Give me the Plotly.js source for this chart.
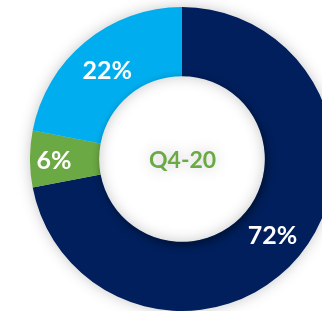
<!DOCTYPE html>
<html>
<head>
<meta charset="utf-8">
<script src="https://cdn.plot.ly/plotly-3.0.1.min.js"></script>
<style>
  html, body { margin: 0; padding: 0; width: 322px; height: 311px; overflow: hidden; background: #ffffff; }
  #chart { position: absolute; left: 30px; top: 7px; width: 304px; height: 304px;
           filter: drop-shadow(0px 0px 7px rgba(0,0,0,0.22)); }
  #holeShadow { position: absolute; left: 99px; top: 76px; width: 166px; height: 166px;
                border-radius: 50%; background: transparent;
                box-shadow: 2px 3px 9px rgba(0,0,0,0.45); pointer-events: none; }
</style>
</head>
<body>
<div id="chart"></div>
<div id="holeShadow"></div>
<script>
const categories = ["Segment A", "Segment B", "Segment C"];
const shares = [72, 6, 22];
const sliceColors = ["#001F5C", "#6BA944", "#00AEEF"];
const centerLabel = "Q4-20";

Plotly.newPlot("chart", [{
  type: "pie",
  labels: categories,
  values: shares,
  hole: 0.545,
  sort: false,
  direction: "clockwise",
  rotation: 0,
  marker: { colors: sliceColors, line: { width: 0 } },
  texttemplate: "%{value}%",
  textposition: "inside",
  insidetextorientation: "horizontal",
  textfont: { family: "Lato, 'Open Sans', sans-serif", size: 25, color: "#ffffff", weight: "bold" },
  hoverinfo: "none",
  showlegend: false
}], {
  width: 304,
  height: 304,
  margin: { l: 0, r: 0, t: 0, b: 0, pad: 0 },
  paper_bgcolor: "rgba(0,0,0,0)",
  plot_bgcolor: "rgba(0,0,0,0)",
  uniformtext: { mode: "show", minsize: 25 },
  annotations: [{
    text: centerLabel,
    x: 0.5, y: 0.5, xref: "paper", yref: "paper",
    showarrow: false,
    font: { family: "Lato, 'Open Sans', sans-serif", size: 23, color: "#6BA944", weight: "bold" }
  }]
}, { displayModeBar: false, staticPlot: true });
</script>
</body>
</html>
